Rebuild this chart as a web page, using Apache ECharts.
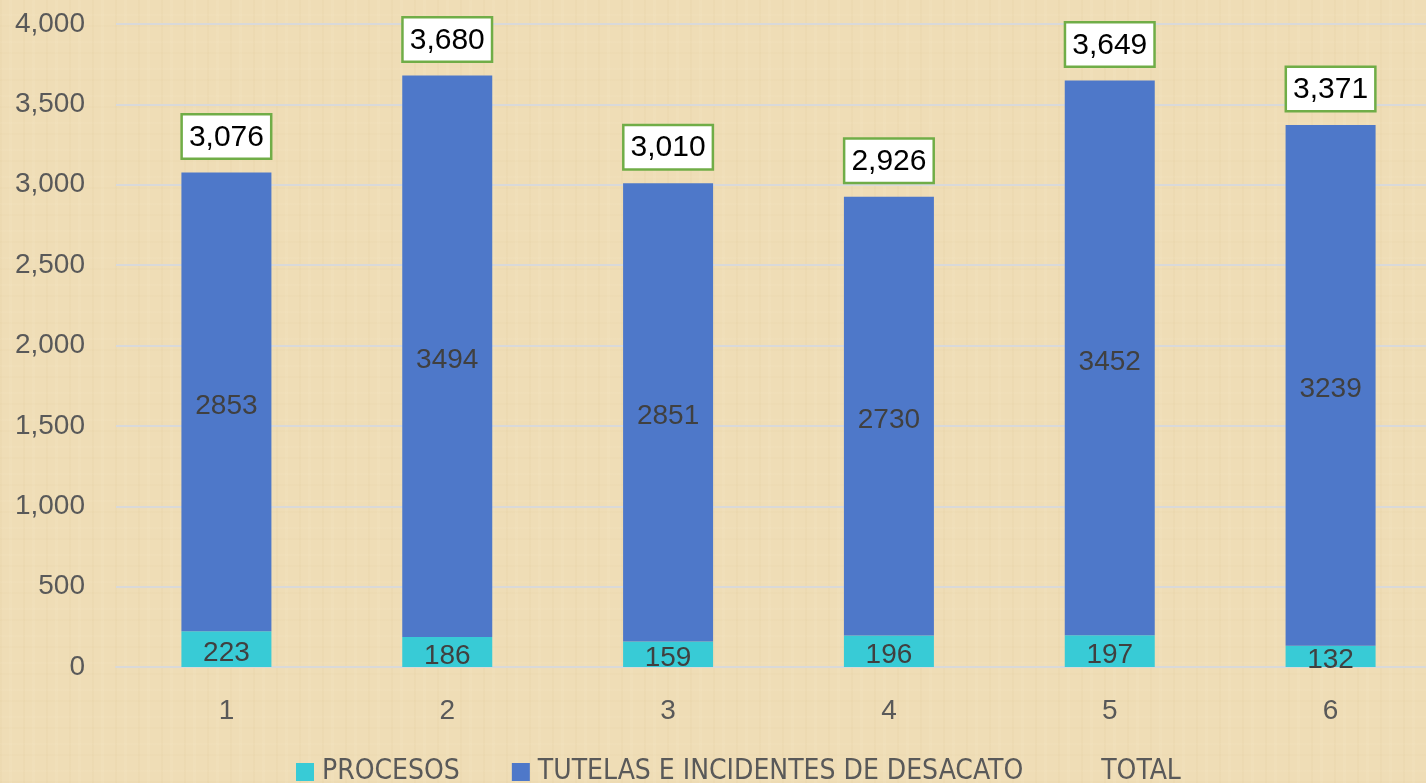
<!DOCTYPE html>
<html>
<head>
<meta charset="utf-8">
<script src="https://cdn.jsdelivr.net/npm/echarts@6/dist/echarts.min.js"></script>
<style>
html, body { margin: 0; padding: 0; overflow: hidden; width: 1426px; height: 783px; }
body {
  background-color: #efddb6;
  background-image:
    repeating-linear-gradient(90deg, rgba(200,170,110,0.06) 0 2px, rgba(255,255,255,0) 2px 9px, rgba(255,245,220,0.08) 9px 12px, rgba(255,255,255,0) 12px 23px),
    repeating-linear-gradient(0deg, rgba(200,170,110,0.04) 0 2px, rgba(255,255,255,0) 2px 11px, rgba(255,245,220,0.06) 11px 13px, rgba(255,255,255,0) 13px 27px);
}
#main { width: 1441px; height: 783px; }
</style>
</head>
<body>
<div id="main"></div>
<script>
var categories = ['1', '2', '3', '4', '5', '6'];
var procesos = [223, 186, 159, 196, 197, 132];
var tutelas = [2853, 3494, 2851, 2730, 3452, 3239];
var totals = [3076, 3680, 3010, 2926, 3649, 3371];
var yTicks = { min: 0, max: 4000, interval: 500 };

var myChart = echarts.init(document.getElementById('main'));

var insideLabel = {
  show: true,
  position: 'inside',
  offset: [0, 4],
  color: '#404040',
  fontSize: 28,
  fontFamily: 'Liberation Sans'
};

myChart.setOption({
  backgroundColor: 'transparent',
  animation: false,
  grid: {
    left: 116,
    right: 0,
    top: 24,
    bottom: 116
  },
  legend: {
    left: 296,
    top: 758,
    padding: 0,
    itemWidth: 18,
    itemHeight: 18,
    itemGap: 52,
    textStyle: {
      color: '#595959',
      fontSize: 28,
      fontFamily: 'Liberation Sans Narrow, DejaVu Sans Condensed, sans-serif',
      padding: [0, 0, 0, 3]
    },
    data: [
      { name: 'PROCESOS', icon: 'rect' },
      { name: 'TUTELAS E INCIDENTES DE DESACATO', icon: 'rect' },
      { name: 'TOTAL', icon: 'rect', itemStyle: { color: 'transparent' } }
    ]
  },
  xAxis: {
    type: 'category',
    data: categories,
    axisLine: { lineStyle: { color: '#d9d9d9', width: 2 } },
    axisTick: { show: false },
    axisLabel: {
      color: '#595959',
      fontSize: 28,
      fontFamily: 'Liberation Sans',
      margin: 30
    }
  },
  yAxis: {
    type: 'value',
    min: yTicks.min,
    max: yTicks.max,
    interval: yTicks.interval,
    axisLine: { show: false },
    axisTick: { show: false },
    splitLine: { lineStyle: { color: '#d9d9d9', width: 2 } },
    axisLabel: {
      color: '#595959',
      fontSize: 28,
      fontFamily: 'Liberation Sans',
      margin: 31,
      formatter: function (v) { return v.toLocaleString('en-US'); }
    }
  },
  series: [
    {
      name: 'PROCESOS',
      type: 'bar',
      stack: 'total',
      barWidth: 90,
      barGap: '-100%',
      itemStyle: { color: '#38cbd6' },
      label: insideLabel,
      data: procesos
    },
    {
      name: 'TUTELAS E INCIDENTES DE DESACATO',
      type: 'bar',
      stack: 'total',
      barWidth: 90,
      barGap: '-100%',
      itemStyle: { color: '#4e78c9' },
      label: insideLabel,
      data: tutelas
    },
    {
      name: 'TOTAL',
      type: 'bar',
      barWidth: 90,
      barGap: '-100%',
      z: 5,
      itemStyle: { color: 'transparent' },
      label: {
        show: true,
        position: 'top',
        distance: 15,
        color: '#000',
        fontSize: 30,
        fontFamily: 'Liberation Sans',
        backgroundColor: '#fff',
        borderColor: '#70ad47',
        borderWidth: 2.5,
        padding: [7, 6, 5, 6],
        formatter: function (p) { return p.value.toLocaleString('en-US'); }
      },
      data: totals
    }
  ]
});
</script>
</body>
</html>
